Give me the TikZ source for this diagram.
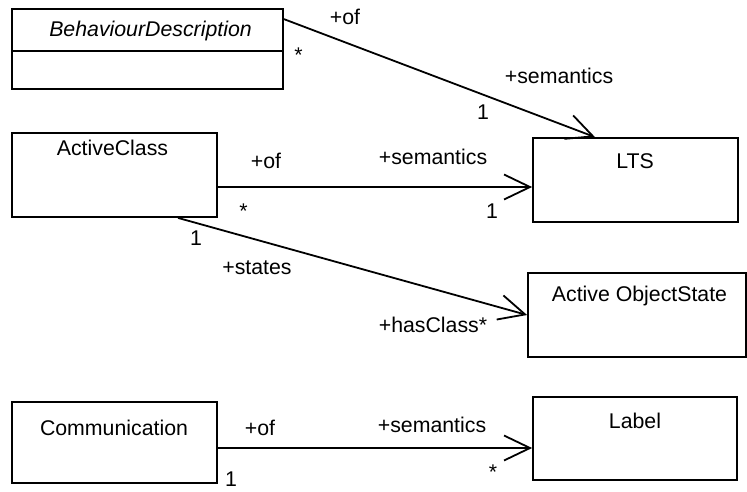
\documentclass[tikz,border=0pt]{standalone}
\usepackage{fontspec}
\setmainfont{Liberation Sans}
\usetikzlibrary{arrows.meta, positioning, calc}

\begin{document}
\begin{tikzpicture}[
  x=1pt, y=-1pt,
  every node/.style = {font=\fontsize{21.3}{25}\selectfont},
  classbox/.style = {draw, line width=1.8pt, minimum width=#1, minimum height=84pt, inner sep=0pt},
  cname/.style = {inner sep=0pt, anchor=base},
  role/.style = {inner sep=0pt, anchor=base},
  assoc/.style = {line width=1.8pt, -{Straight Barb[length=26pt, width=25pt]}}
]
  \useasboundingbox (0,0) rectangle (747,491);

  % BehaviourDescription (abstract, two compartments)
  \node[classbox=271pt, minimum height=80pt] (bd) at (147.5,49) {};
  \draw[line width=1.8pt] ([yshift=-43pt]bd.north west) -- ([yshift=-43pt]bd.north east);
  \node[cname] (bd-name) at (150.5,36) {\itshape BehaviourDescription};

  % ActiveClass
  \node[classbox=205pt] (ac) at (114.5,175) {};
  \node[cname] (ac-name) at (112.5,155) {ActiveClass};

  % LTS
  \node[classbox=205pt] (lts) at (635.5,180) {};
  \node[cname] (lts-name) at (635,168) {LTS};

  % Active ObjectState
  \node[classbox=218pt] (aos) at (637,315) {};
  \node[cname] (aos-name) at (639.5,301) {Active ObjectState};

  % Communication
  \node[classbox=205pt, minimum height=81pt] (comm) at (114.5,442.5) {};
  \node[cname] (comm-name) at (114,435) {Communication};

  % Label
  \node[classbox=204pt, minimum height=83pt] (lbl) at (635,438.5) {};
  \node[cname] (lbl-name) at (635,428) {Label};

  % BehaviourDescription -> LTS
  \draw[assoc] ([yshift=-11pt]bd.north east) -- ([xshift=-40.5pt]lts.north);
  \node[role] (bd-of) at (345,24) {+of};
  \node[role] (bd-many) at (298.5,62) {*};
  \node[role] (bd-sem) at (559,83) {+semantics};
  \node[role] (bd-one) at (483,119) {1};

  % ActiveClass -> LTS
  \draw[assoc] ([yshift=-12pt]ac.east) -- ([yshift=-7pt]lts.west);
  \node[role] (ac-of) at (266,168) {+of};
  \node[role] (ac-many) at (243.5,218) {*};
  \node[role] (ac-sem) at (433,164) {+semantics};
  \node[role] (ac-one) at (492,218) {1};

  % ActiveClass -> Active ObjectState
  \draw[assoc] ([xshift=63.5pt]ac.south) -- (aos.west);
  \node[role] (st-one) at (196,245) {1};
  \node[role] (st-states) at (257,274) {+states};
  \node[role] (st-has) at (433,332) {+hasClass*};

  % Communication -> Label
  \draw[assoc] ([yshift=-5.5pt]comm.east) -- ([yshift=-9.5pt]lbl.west);
  \node[role] (cm-of) at (260,435) {+of};
  \node[role] (cm-sem) at (432,432) {+semantics};
  \node[role] (cm-one) at (231,486) {1};
  \node[role] (cm-many) at (493,479) {*};

\end{tikzpicture}
\end{document}
